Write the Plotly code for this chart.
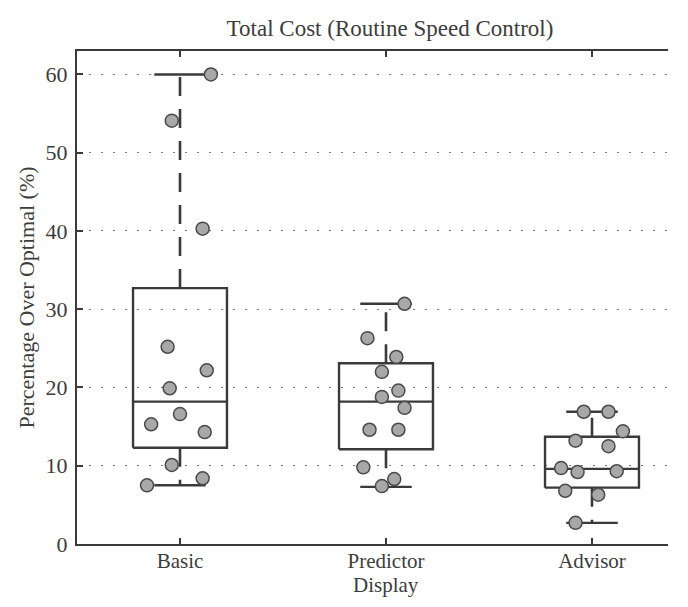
import plotly.graph_objects as go

displays = ['Basic', 'Predictor', 'Advisor']

# box statistics (percentage over optimal)
q1 = [12.3, 12.1, 7.2]
median = [18.2, 18.2, 9.6]
q3 = [32.7, 23.1, 13.7]
lower = [7.5, 7.3, 2.7]
upper = [60.0, 30.7, 16.9]

# individual subjects, with their horizontal scatter offsets
basic_y = [60.0, 54.1, 40.3, 25.2, 22.2, 19.9, 16.6, 15.3, 14.3, 10.1, 8.4, 7.5]
basic_dx = [0.15, -0.04, 0.11, -0.06, 0.13, -0.05, 0.0, -0.14, 0.12, -0.04, 0.11, -0.16]
predictor_y = [30.7, 26.3, 23.9, 22.0, 19.6, 18.8, 17.4, 14.6, 14.6, 9.8, 8.3, 7.4]
predictor_dx = [0.09, -0.09, 0.05, -0.02, 0.06, -0.02, 0.09, -0.08, 0.06, -0.11, 0.04, -0.02]
advisor_y = [16.9, 16.9, 14.4, 13.2, 12.5, 9.7, 9.2, 9.3, 6.8, 6.3, 2.7]
advisor_dx = [-0.04, 0.08, 0.15, -0.08, 0.08, -0.15, -0.07, 0.12, -0.13, 0.03, -0.08]

points_y = [basic_y, predictor_y, advisor_y]
points_dx = [basic_dx, predictor_dx, advisor_dx]

half_box = 0.228
half_cap = 0.125
ink = '#3a3a3a'
text_col = '#3c3c3c'

W, H = 660, 590
L, T, B = 69, 43, 54

fig = go.Figure()

for i in range(len(displays)):
    # box outline
    fig.add_trace(go.Scatter(
        x=[i - half_box, i + half_box, i + half_box, i - half_box, i - half_box],
        y=[q1[i], q1[i], q3[i], q3[i], q1[i]],
        mode='lines', line=dict(color=ink, width=2.4),
        showlegend=False, hoverinfo='skip',
    ))
    # median
    fig.add_trace(go.Scatter(
        x=[i - half_box, i + half_box], y=[median[i], median[i]],
        mode='lines', line=dict(color=ink, width=2.4),
        showlegend=False, hoverinfo='skip',
    ))
    # dashed whiskers
    for a, b in ((q3[i], upper[i]), (q1[i], lower[i])):
        fig.add_trace(go.Scatter(
            x=[i, i], y=[a, b],
            mode='lines', line=dict(color=ink, width=2.6, dash='19px,13px'),
            showlegend=False, hoverinfo='skip',
        ))
    # caps
    for v in (upper[i], lower[i]):
        fig.add_trace(go.Scatter(
            x=[i - half_cap, i + half_cap], y=[v, v],
            mode='lines', line=dict(color=ink, width=2.4),
            showlegend=False, hoverinfo='skip',
        ))

# subject points on top
for i in range(len(displays)):
    fig.add_trace(go.Scatter(
        x=[i + d for d in points_dx[i]], y=points_y[i],
        mode='markers',
        marker=dict(size=13, color='#a8a8a8', line=dict(color='#4a4a4a', width=1.5)),
        showlegend=False,
    ))

plot_w = W - L
plot_h = H - T - B

# page body adds an 8px margin, so the figure is sized to fit the window
fig.update_layout(
    width=W, height=H,
    paper_bgcolor='white', plot_bgcolor='white',
    font=dict(family='Liberation Serif', color=text_col, size=22),
    title=dict(text='Total Cost (Routine Speed Control)', x=382 / W,
               xanchor='center', y=1 - 20 / H, yanchor='middle', font=dict(size=23)),
    margin=dict(l=L, r=0, t=T, b=B),
    xaxis=dict(
        range=[-0.5, -0.5 + plot_w / 206], tickvals=[0, 1, 2], ticktext=displays,
        showgrid=False, zeroline=False,
        showline=True, linecolor=ink, linewidth=2, mirror='ticks',
        ticks='inside', ticklen=6, tickcolor=ink, tickwidth=1.5,
        tickfont=dict(size=21), ticklabelstandoff=-3,
        automargin=False,
    ),
    yaxis=dict(
        range=[0, 63], tickvals=[0, 10, 20, 30, 40, 50, 60],
        showgrid=True, gridcolor='#7a7a7a', griddash='2px,10px', gridwidth=1.2,
        zeroline=False,
        showline=True, linecolor=ink, linewidth=2, mirror=False,
        ticks='inside', ticklen=6, tickcolor=ink, tickwidth=1.5,
        ticklabelstandoff=3, automargin=False,
    ),
    annotations=[
        dict(text='Percentage Over Optimal (%)', textangle=-90,
             xref='paper', yref='paper', x=(18 - L) / plot_w, y=0.5,
             xanchor='center', yanchor='middle', showarrow=False,
             font=dict(size=22, color=text_col)),
        dict(text='Display', xref='x', yref='paper', x=1, y=-B / plot_h,
             xanchor='center', yanchor='bottom', showarrow=False, borderpad=0,
             font=dict(size=21, color=text_col)),
    ],
)

fig.write_html('out.html')
